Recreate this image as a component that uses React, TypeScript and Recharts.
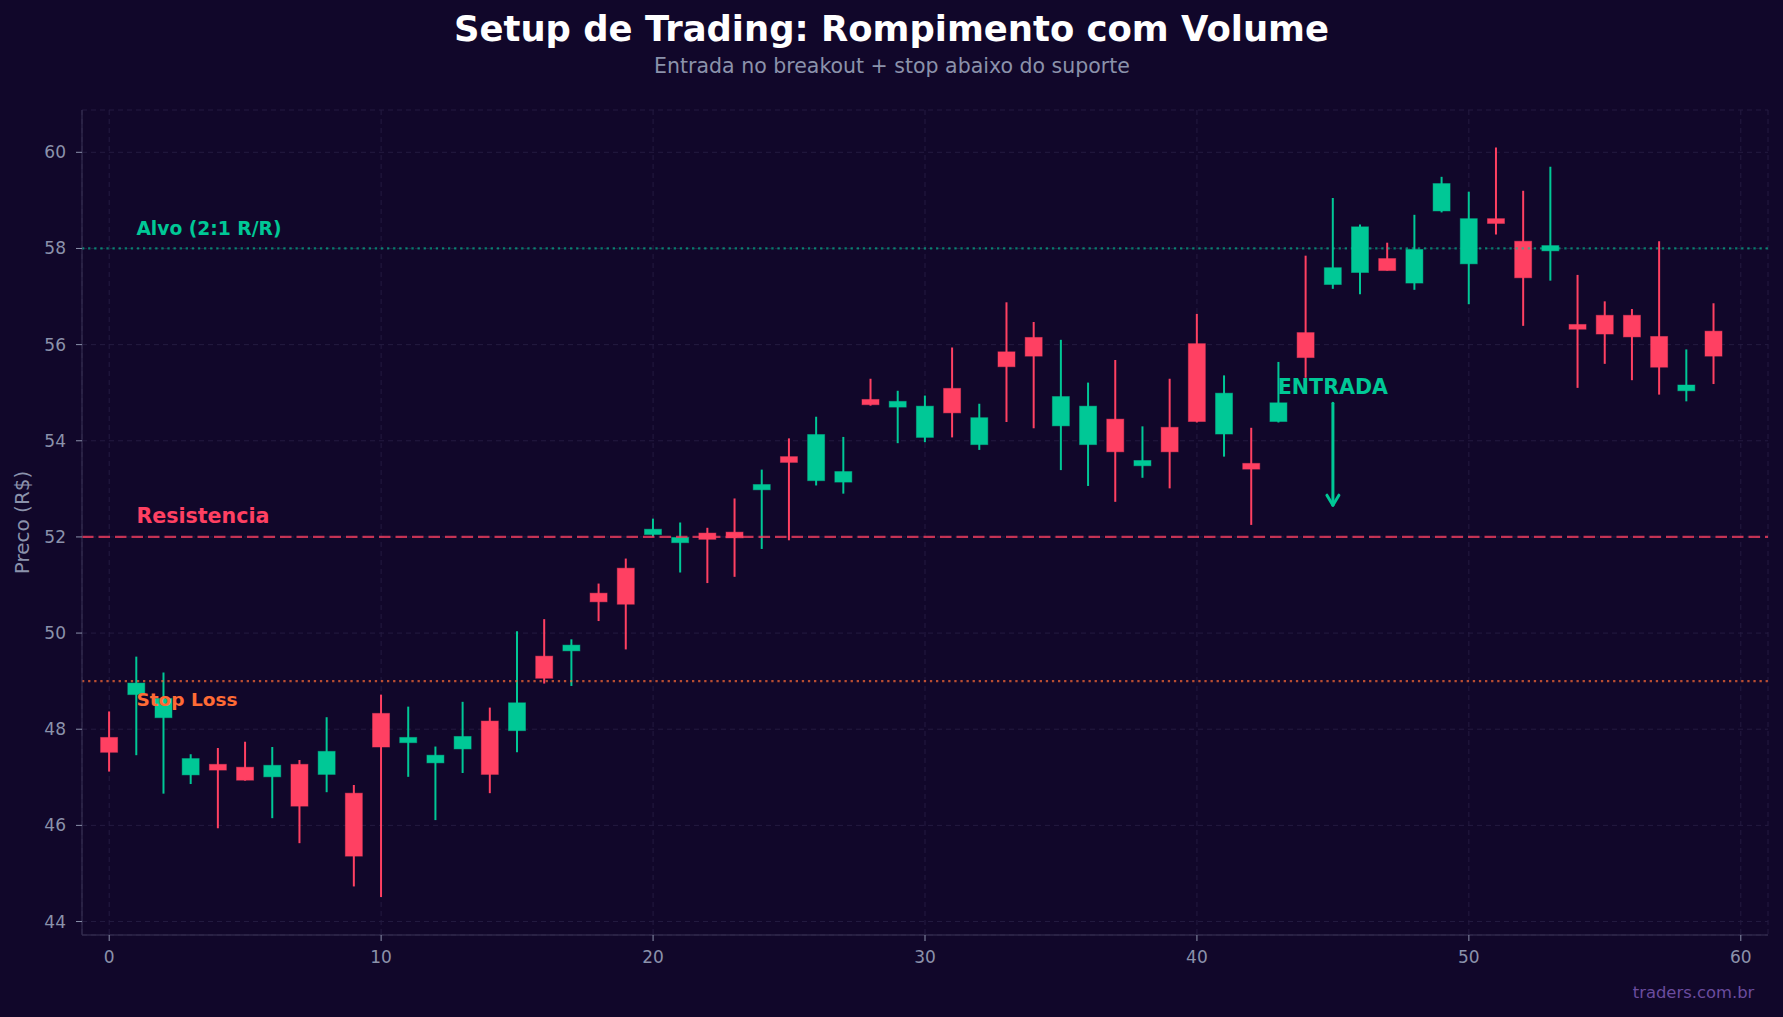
import { ComposedChart, Bar, XAxis, YAxis, CartesianGrid, ReferenceLine, ReferenceDot } from "recharts";

const W = 1783;
const H = 1017;
const BG = "#11072a";
const GREEN = "#00c896";
const RED = "#ff4062";
const ORANGE = "#ff6b35";
const MUTED = "#8b92ab";
const FONT = "DejaVu Sans, sans-serif";

const candleIndex = [
  0, 1, 2, 3, 4, 5, 6, 7, 8, 9, 10, 11, 12, 13, 14, 15, 16, 17, 18, 19,
  20, 21, 22, 23, 24, 25, 26, 27, 28, 29, 30, 31, 32, 33, 34, 35, 36, 37, 38, 39,
  40, 41, 42, 43, 44, 45, 46, 47, 48, 49, 50, 51, 52, 53, 54, 55, 56, 57, 58, 59,
];
const opens = [
  47.83, 48.72, 48.24, 47.05, 47.27, 47.21, 47.01, 47.27, 47.06, 46.67,
  48.33, 47.72, 47.30, 47.59, 48.17, 47.97, 49.52, 49.63, 50.83, 51.35,
  52.05, 51.88, 52.08, 52.10, 52.98, 53.67, 53.17, 53.14, 54.86, 54.70,
  54.07, 55.09, 53.92, 55.85, 56.15, 54.31, 53.92, 54.45, 53.48, 54.28,
  56.02, 54.14, 53.53, 54.40, 56.25, 57.25, 57.50, 57.79, 57.28, 58.78,
  57.68, 58.62, 58.15, 57.95, 56.42, 56.61, 56.61, 56.17, 55.04, 56.28,
];
const highs = [
  48.37, 49.51, 49.18, 47.48, 47.61, 47.74, 47.63, 47.36, 48.25, 46.84,
  48.72, 48.47, 47.64, 48.57, 48.45, 50.04, 50.29, 49.87, 51.03, 51.55,
  52.38, 52.30, 52.19, 52.80, 53.40, 54.05, 54.50, 54.08, 55.29, 55.04,
  54.94, 55.94, 54.77, 56.88, 56.47, 56.10, 55.21, 55.68, 54.30, 55.29,
  56.64, 55.36, 54.27, 55.64, 57.85, 59.05, 58.50, 58.12, 58.70, 59.49,
  59.18, 60.10, 59.20, 59.70, 57.45, 56.90, 56.74, 58.15, 55.90, 56.86,
];
const lows = [
  47.12, 47.46, 46.66, 46.86, 45.94, 46.93, 46.15, 45.63, 46.69, 44.73,
  44.51, 47.01, 46.11, 47.09, 46.67, 47.52, 48.95, 48.90, 50.25, 49.66,
  52.00, 51.26, 51.04, 51.17, 51.75, 51.93, 53.07, 52.90, 54.73, 53.95,
  53.97, 54.07, 53.81, 54.39, 54.26, 53.39, 53.06, 52.73, 53.23, 53.01,
  54.38, 53.67, 52.25, 54.38, 55.31, 57.16, 57.05, 57.54, 57.14, 58.75,
  56.84, 58.29, 56.39, 57.33, 55.10, 55.60, 55.26, 54.96, 54.82, 55.18,
];
const closes = [
  47.52, 48.96, 48.64, 47.39, 47.15, 46.94, 47.25, 46.40, 47.54, 45.36,
  47.63, 47.83, 47.46, 47.85, 47.06, 48.55, 49.06, 49.75, 50.65, 50.60,
  52.16, 51.99, 51.95, 51.98, 53.09, 53.55, 54.13, 53.36, 54.75, 54.82,
  54.72, 54.58, 54.48, 55.54, 55.76, 54.92, 54.72, 53.77, 53.59, 53.77,
  54.40, 54.99, 53.41, 54.79, 55.73, 57.60, 58.45, 57.54, 57.98, 59.35,
  58.62, 58.52, 57.39, 58.06, 56.32, 56.22, 56.16, 55.53, 55.16, 55.76,
];

const xTicks = [0, 10, 20, 30, 40, 50, 60];
const yTicks = [44, 46, 48, 50, 52, 54, 56, 58, 60];

const targetLevel = 58;
const resistanceLevel = 52;
const stopLevel = 49;
const entryX = 45;

const data = candleIndex.map((i, k) => ({
  i,
  open: opens[k],
  high: highs[k],
  low: lows[k],
  close: closes[k],
  range: [lows[k], highs[k]],
}));

const Candle = (props: any) => {
  const { x, y, width, height, payload } = props;
  if (!payload || height == null) return null;
  const { open, close, high, low } = payload;
  const color = close >= open ? GREEN : RED;
  const ratio = height / (high - low);
  const yOf = (v: number) => y + (high - v) * ratio;
  const top = yOf(Math.max(open, close));
  const bot = yOf(Math.min(open, close));
  const cx = x + width / 2;
  return (
    <g>
      <line x1={cx} x2={cx} y1={y} y2={y + height} stroke={color} strokeWidth={2} />
      <rect
        x={x}
        y={top}
        width={width}
        height={Math.max(bot - top, 1.5)}
        fill={color}
        stroke={color}
        strokeOpacity={0.45}
        strokeWidth={1}
      />
    </g>
  );
};

const textShape = (text: string, color: string, size: number, anchor: "start" | "middle") => (p: any) => (
  <text
    x={p.cx}
    y={p.cy}
    fill={color}
    fontSize={size}
    fontWeight="bold"
    fontFamily={FONT}
    textAnchor={anchor}
  >
    {text}
  </text>
);

const Arrow = (p: any) => {
  const { x1, y1, x2, y2 } = p;
  return (
    <g stroke={GREEN} strokeWidth={3} strokeLinecap="round" fill="none">
      <line x1={x1} y1={y1} x2={x2} y2={y2} />
      <polyline points={`${x2 - 6},${y2 - 10} ${x2},${y2} ${x2 + 6},${y2 - 10}`} strokeLinejoin="round" />
    </g>
  );
};

export default function App() {
  return (
    <div style={{ position: "absolute", left: 0, top: 0, width: W, height: H, background: BG, fontFamily: FONT }}>
      <ComposedChart
        width={W}
        height={H}
        data={data}
        margin={{ top: 110, right: 15, bottom: 42, left: 12 }}
      >
        <CartesianGrid stroke="#241b40" strokeDasharray="5 4" strokeWidth={1} />
        <XAxis
          dataKey="i"
          type="number"
          domain={[-1, 61]}
          ticks={xTicks}
          allowDataOverflow
          height={40}
          stroke="#3a3456"
          tickLine={{ stroke: MUTED }}
          tickSize={6}
          tickMargin={10}
          tick={{ fill: MUTED, fontSize: 17, fontFamily: FONT }}
        />
        <YAxis
          type="number"
          domain={[43.72, 60.88]}
          ticks={yTicks}
          allowDataOverflow
          width={70}
          stroke="#3a3456"
          tickLine={{ stroke: MUTED }}
          tickSize={6}
          tickMargin={10}
          tick={{ fill: MUTED, fontSize: 17, fontFamily: FONT }}
        />
        <ReferenceLine y={targetLevel} stroke={GREEN} strokeOpacity={0.6} strokeWidth={2.2} strokeDasharray="2.3 3.8" />
        <ReferenceLine y={resistanceLevel} stroke={RED} strokeOpacity={0.75} strokeWidth={2.3} strokeDasharray="11.5 5" />
        <ReferenceLine y={stopLevel} stroke={ORANGE} strokeOpacity={0.7} strokeWidth={2.2} strokeDasharray="2.3 3.8" />
        <Bar dataKey="range" barSize={17} isAnimationActive={false} shape={Candle} />
        <ReferenceDot x={1} y={58.29} r={1} shape={textShape("Alvo (2:1 R/R)", GREEN, 18.7, "start")} />
        <ReferenceDot x={1} y={52.3} r={1} shape={textShape("Resistencia", RED, 20.6, "start")} />
        <ReferenceDot x={1} y={48.48} r={1} shape={textShape("Stop Loss", ORANGE, 18.5, "start")} />
        <ReferenceDot x={entryX} y={54.98} r={1} shape={textShape("ENTRADA", GREEN, 20.6, "middle")} />
        <ReferenceLine
          segment={[
            { x: entryX, y: 54.78 },
            { x: entryX, y: 52.66 },
          ]}
          shape={Arrow}
        />
      </ComposedChart>
      <svg width={W} height={H} style={{ position: "absolute", left: 0, top: 0, pointerEvents: "none" }}>
        <text x={891.5} y={40.7} textAnchor="middle" fill="#ffffff" fontSize={35.4} fontWeight="bold" fontFamily={FONT}>
          Setup de Trading: Rompimento com Volume
        </text>
        <text x={892} y={72.7} textAnchor="middle" fill={MUTED} fontSize={20.5} fontFamily={FONT}>
          Entrada no breakout + stop abaixo do suporte
        </text>
        <text
          x={28.5}
          y={522.5}
          transform="rotate(-90 28.5 522.5)"
          textAnchor="middle"
          fill={MUTED}
          fontSize={20}
          fontFamily={FONT}
        >
          Preco (R$)
        </text>
        <text x={1754.3} y={998.3} textAnchor="end" fill="#6a4c9e" fontSize={16.4} fontFamily={FONT}>
          traders.com.br
        </text>
      </svg>
    </div>
  );
}
